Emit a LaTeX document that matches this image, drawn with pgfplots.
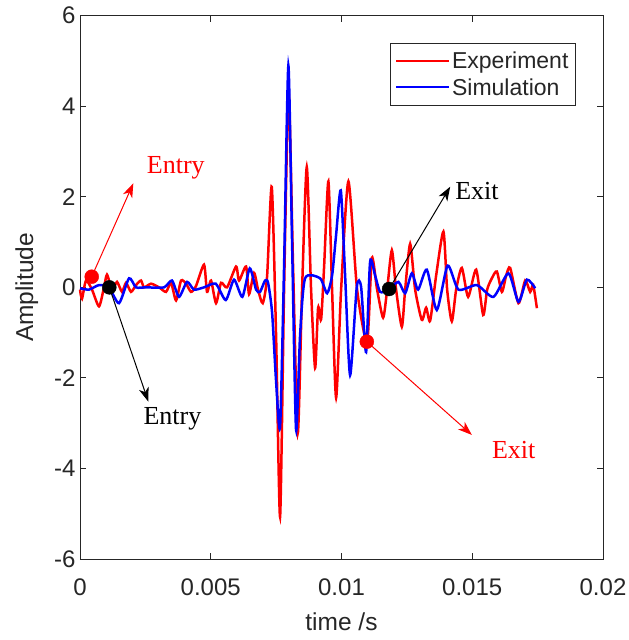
\documentclass[border=0pt]{standalone}
\usepackage{pgfplots}
\pgfplotsset{compat=1.18}
\usepackage{fontspec}
\setmainfont{Liberation Sans}
\newfontfamily\timesf{Liberation Serif}
\usetikzlibrary{arrows.meta}
\definecolor{axgray}{rgb}{0.15,0.15,0.15}
\begin{document}
\begin{tikzpicture}
\begin{axis}[
  scale only axis, width=523bp, height=543.3bp,
  xmin=0, xmax=0.02, ymin=-6, ymax=6,
  xtick={0,0.005,0.01,0.015,0.02},
  xticklabels={0,0.005,0.01,0.015,0.02},
  ytick={-6,-4,-2,0,2,4,6},
  yticklabels={-6,-4,-2,0,2,4,6},
  scaled x ticks=false,
  tick align=inside, major tick length=6bp,
  axis line style={axgray, line width=0.8bp},
  every tick/.style={axgray, line width=0.8bp},
  tick label style={font=\fontsize{24bp}{28bp}\selectfont, text=axgray},
  xticklabel style={yshift=-16bp},
  yticklabel style={xshift=-1bp},
  xlabel={time /s}, ylabel={Amplitude},
  label style={font=\fontsize{24.5bp}{28bp}\selectfont, text=axgray},
  xlabel style={yshift=-10bp},
  ylabel style={yshift=9bp},
  clip=false,
  legend style={at={(0.948,0.950)}, anchor=north east, draw=axgray, line width=0.8bp,
    font=\fontsize{23bp}{27bp}\selectfont, text=axgray, inner xsep=5bp, inner ysep=7bp,
    row sep=4bp, cells={anchor=west}},
  legend image code/.code={\draw[#1, line width=2bp] (0bp,0bp) -- (53bp,0bp);},
]
\addplot[red, line width=2.5bp, smooth, tension=0.4] coordinates {
(0,-0.05)(0.077e-3,-0.25)(0.229e-3,0.15)(0.459e-3,-0.05)(0.727e-3,-0.42)(0.918e-3,0.0)(1.033e-3,0.28)
(1.224e-3,-0.05)(1.416e-3,0.12)(1.607e-3,-0.10)(1.760e-3,0.10)(1.951e-3,-0.10)(2.142e-3,0.05)
(2.334e-3,0.15)(2.449e-3,0.0)(2.716e-3,0.08)(3.023e-3,0.0)(3.290e-3,-0.10)(3.482e-3,0.10)
(3.673e-3,-0.29)(3.864e-3,0.15)(4.056e-3,0.08)(4.247e-3,-0.10)(4.437e-3,0.03)(4.743e-3,0.50)
(4.858e-3,-0.10)(5.011e-3,0.15)(5.202e-3,-0.35)(5.394e-3,0.10)(5.624e-3,0.0)(5.968e-3,0.46)
(6.083e-3,0.15)(6.350e-3,0.46)(6.465e-3,-0.15)(6.656e-3,0.32)(6.809e-3,-0.05)(6.989e-3,-0.35)
(7.154e-3,0.24)(7.333e-3,2.22)(7.498e-3,-1.06)(7.651e-3,-5.07)(7.804e-3,-0.05)(7.976e-3,4.30)
(8.148e-3,0.46)(8.328e-3,-3.22)(8.492e-3,-0.05)(8.672e-3,2.66)(8.837e-3,-0.05)(8.990e-3,-1.78)
(9.105e-3,-0.45)(9.220e-3,-0.71)(9.335e-3,0.46)(9.499e-3,2.34)(9.640e-3,-0.05)(9.794e-3,-2.44)
(9.985e-3,-0.05)(10.264e-3,2.34)(10.597e-3,-0.05)(10.979e-3,-1.20)(11.159e-3,0.65)(11.362e-3,-0.05)
(11.592e-3,-0.67)(11.745e-3,-0.05)(11.925e-3,0.82)(12.088e-3,-0.05)(12.307e-3,-0.87)(12.434e-3,-0.05)
(12.625e-3,0.96)(12.816e-3,-0.05)(13.072e-3,-0.72)(13.236e-3,-0.45)(13.389e-3,-0.74)(13.619e-3,0.26)
(13.898e-3,1.23)(14.040e-3,-0.05)(14.219e-3,-0.75)(14.384e-3,-0.05)(14.602e-3,0.43)(14.843e-3,-0.21)
(15.150e-3,0.39)(15.417e-3,-0.61)(15.570e-3,-0.05)(15.750e-3,0.20)(15.941e-3,0.35)(16.133e-3,-0.10)
(16.297e-3,0.26)(16.450e-3,0.43)(16.767e-3,-0.35)(17.024e-3,0.15)(17.215e-3,-0.10)(17.330e-3,0.05)
(17.472e-3,-0.46)
};
\addlegendentry{Experiment}
\addplot[blue, line width=2.5bp, smooth, tension=0.4] coordinates {
(0,-0.02)(0.344e-3,-0.05)(0.727e-3,0.05)(1.109e-3,0.0)(1.492e-3,-0.35)(1.875e-3,0.20)(2.142e-3,0.0)
(2.525e-3,0.0)(3.213e-3,0.0)(3.519e-3,0.15)(3.787e-3,-0.21)(4.093e-3,0.12)(4.361e-3,-0.05)
(4.743e-3,0.0)(5.191e-3,0.08)(5.574e-3,-0.28)(5.891e-3,0.17)(6.209e-3,-0.21)(6.492e-3,0.42)
(6.733e-3,-0.05)(6.886e-3,-0.10)(7.077e-3,0.15)(7.192e-3,0.10)(7.345e-3,-0.55)(7.498e-3,-2.07)
(7.651e-3,-3.08)(7.804e-3,0.46)(7.968e-3,4.90)(8.111e-3,0.96)(8.263e-3,-3.15)(8.416e-3,-1.06)
(8.607e-3,0.20)(9.181e-3,0.20)(9.449e-3,-0.13)(9.640e-3,0.26)(9.794e-3,1.16)(9.973e-3,2.14)
(10.138e-3,0.26)(10.329e-3,-1.94)(10.585e-3,0.01)(10.750e-3,0.01)(10.940e-3,-1.43)(11.094e-3,0.57)
(11.286e-3,0.26)(11.477e-3,-0.10)(11.783e-3,-0.05)(12.177e-3,0.12)(12.434e-3,-0.13)(12.690e-3,0.31)
(12.930e-3,-0.05)(13.263e-3,0.39)(13.645e-3,-0.50)(14.059e-3,0.48)(14.472e-3,-0.05)(15.176e-3,0.05)
(15.811e-3,-0.21)(16.385e-3,0.31)(16.767e-3,-0.32)(17.089e-3,0.17)(17.407e-3,-0.02)
};
\addlegendentry{Simulation}
% annotation arrows
\addplot[red, line width=1bp, -{Stealth[length=14bp,width=10bp,inset=4bp]}, forget plot] coordinates {(0.000448,0.235)(0.002039,2.297)};
\addplot[black, line width=1bp, -{Stealth[length=14bp,width=10bp,inset=4bp]}, forget plot] coordinates {(0.001121,0.0)(0.002613,-2.524)};
\addplot[black, line width=1bp, -{Stealth[length=14bp,width=10bp,inset=4bp]}, forget plot] coordinates {(0.011821,-0.036)(0.014155,2.222)};
\addplot[red, line width=1bp, -{Stealth[length=14bp,width=10bp,inset=4bp]}, forget plot] coordinates {(0.010968,-1.20)(0.014985,-3.26)};
% annotation dots
\addplot[only marks, mark=*, mark size=7bp, red, forget plot] coordinates {(0.000448,0.235)(0.010968,-1.20)};
\addplot[only marks, mark=*, mark size=7bp, black, forget plot] coordinates {(0.001121,0.0)(0.011821,-0.036)};
% annotation labels
\node[anchor=base west, inner sep=0pt, text=red, font=\timesf\fontsize{26bp}{30bp}\selectfont] at (axis cs:0.002552,2.524) {Entry};
\node[anchor=base west, inner sep=0pt, text=black, font=\timesf\fontsize{26bp}{30bp}\selectfont] at (axis cs:0.002422,-3.039) {Entry};
\node[anchor=base west, inner sep=0pt, text=black, font=\timesf\fontsize{26bp}{30bp}\selectfont] at (axis cs:0.014346,1.95) {Exit};
\node[anchor=base west, inner sep=0pt, text=red, font=\timesf\fontsize{26bp}{30bp}\selectfont] at (axis cs:0.01575,-3.774) {Exit};
\end{axis}
\pgfresetboundingbox
\useasboundingbox (-80bp,-81bp) rectangle (549bp,559bp);
\end{tikzpicture}
\end{document}
